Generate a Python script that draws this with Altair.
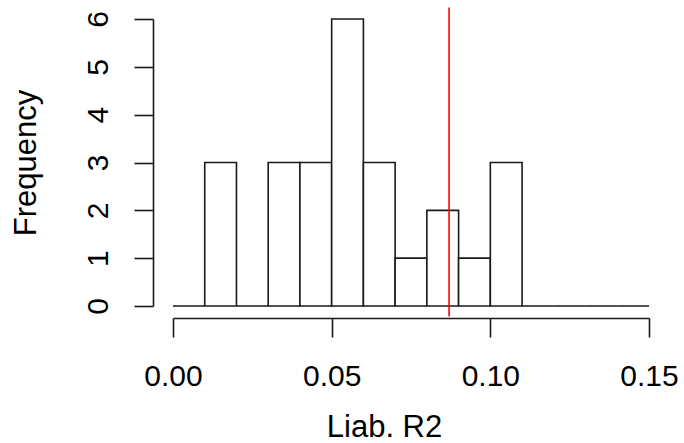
import altair as alt
import pandas as pd

# Histogram bins (width 0.01) and counts
bin_starts = [0.00, 0.01, 0.02, 0.03, 0.04, 0.05, 0.06, 0.07, 0.08, 0.09, 0.10, 0.11, 0.12, 0.13, 0.14]
bin_ends = [0.01, 0.02, 0.03, 0.04, 0.05, 0.06, 0.07, 0.08, 0.09, 0.10, 0.11, 0.12, 0.13, 0.14, 0.15]
counts = [0, 3, 0, 3, 3, 6, 3, 1, 2, 1, 3, 0, 0, 0, 0]

# Red reference line
ref_x = [0.087]
ref_y_top = [6.24]
ref_y_bottom = [-0.22]

x_ticks = [0.0, 0.05, 0.10, 0.15]
y_ticks = [0, 1, 2, 3, 4, 5, 6]

hist = pd.DataFrame({"start": bin_starts, "end": bin_ends, "count": counts, "zero": [0] * len(counts)})
ref = pd.DataFrame({"x": ref_x, "y": ref_y_top, "y2": ref_y_bottom})

FONT = "Liberation Sans"
INK = "#1a1a1a"

x_scale = alt.Scale(domain=[0, 0.15], nice=False, zero=False)
y_scale = alt.Scale(domain=[0, 6], nice=False)

bars = alt.Chart(hist).mark_rect(fill="white", stroke=INK, strokeWidth=1.6).encode(
    x=alt.X("start:Q", scale=x_scale, axis=alt.Axis(
        title="Liab. R2", values=x_ticks, format=".2f", grid=False,
        offset=12, tickSize=19, tickWidth=1.6, tickColor=INK,
        domainColor=INK, domainWidth=1.6,
        labelFont=FONT, labelFontSize=30, labelColor="black",
        labelBaseline="alphabetic", labelPadding=48, labelFlush=False,
        labelOverlap=False,
        titleFont=FONT, titleFontSize=31, titleFontWeight="normal", titleColor="black",
        titleX=211, titleY=118, titleAlign="center", titleBaseline="alphabetic",
    )),
    x2="end:Q",
    y=alt.Y("count:Q", scale=y_scale, axis=alt.Axis(
        title="Frequency", values=y_ticks, format="d", grid=False,
        offset=20, tickSize=19, tickWidth=1.6, tickColor=INK,
        domainColor=INK, domainWidth=1.6,
        labelFont=FONT, labelFontSize=30, labelColor="black",
        labelAngle=270, labelAlign="center", labelBaseline="alphabetic",
        labelPadding=27, labelFlush=False, labelOverlap=False,
        titleFont=FONT, titleFontSize=31, titleFontWeight="normal", titleColor="black",
        titleAngle=270, titleX=-118, titleY=143.5, titleAlign="center",
        titleBaseline="alphabetic",
    )),
    y2="zero:Q",
)

rule = alt.Chart(ref).mark_rule(color="red", strokeWidth=1.6).encode(
    x=alt.X("x:Q", scale=x_scale),
    y=alt.Y("y:Q", scale=y_scale),
    y2="y2:Q",
)

chart = alt.layer(bars, rule).properties(
    width=476,
    height=287,
    padding={"left": 173, "top": 19, "right": 35, "bottom": 137},
    autosize=alt.AutoSizeParams(type="none"),
    background="white",
).configure_view(stroke=None)

chart.save("out.html", embed_options={"renderer": "svg", "actions": False})
